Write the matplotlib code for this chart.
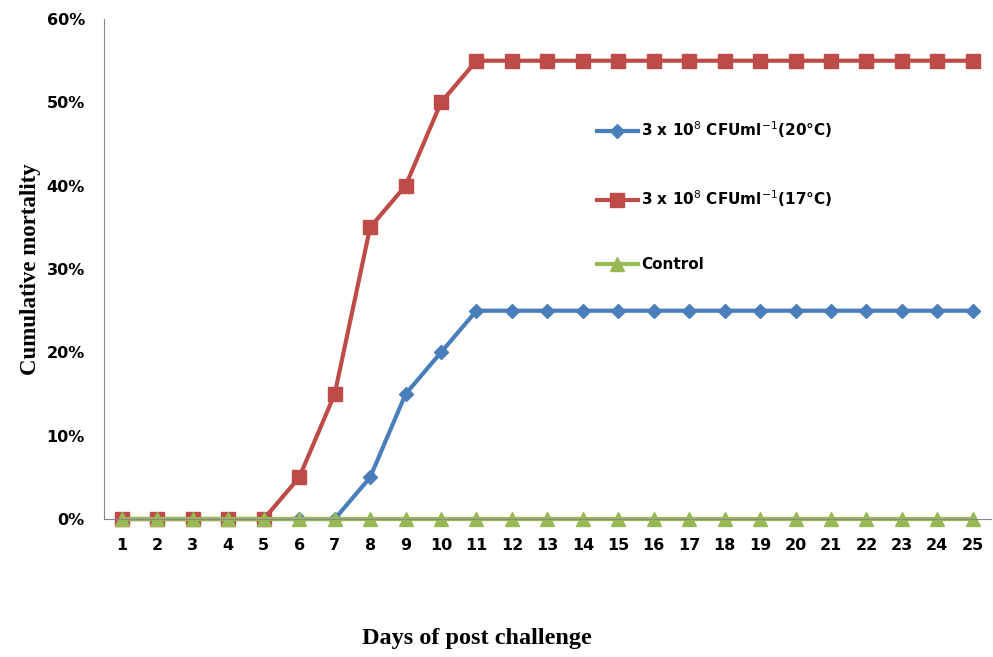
import numpy as np
import matplotlib.pyplot as plt
from matplotlib.ticker import PercentFormatter

# cumulative mortality (%)
days = list(range(1, 26))
mort_20c = [0, 0, 0, 0, 0, 0, 0, 5, 15, 20] + [25] * 15
mort_17c = [0, 0, 0, 0, 0, 5, 15, 35, 40, 50] + [55] * 15
control = [0] * 25

labels = [r'3 x 10$^{8}$ CFUml$^{-1}$(20°C)',
          r'3 x 10$^{8}$ CFUml$^{-1}$(17°C)',
          'Control']

fig = plt.figure(figsize=(9.93, 6.57), dpi=100)
ax = fig.add_axes([0.105, 0.210, 0.8925, 0.761])

x = np.arange(len(days))
ax.plot(x, mort_20c, color='#4a7ebb', lw=3, marker='D', ms=7, label=labels[0], clip_on=False)
ax.plot(x, mort_17c, color='#be4b48', lw=3, marker='s', ms=10.5, label=labels[1], clip_on=False)
ax.plot(x, control, color='#98b954', lw=3, marker='^', ms=10, label=labels[2], clip_on=False)

ax.set_xlim(-0.5, len(days) - 0.5)
ax.set_ylim(0, 60)
ax.set_yticks(range(0, 61, 10))
ax.yaxis.set_major_formatter(PercentFormatter(decimals=0))
ax.set_xticks(x)
ax.set_xticklabels([str(d) for d in days])
ax.tick_params(axis='both', length=0, labelsize=11.5)
ax.tick_params(axis='x', pad=14)
ax.tick_params(axis='y', pad=14)
for lab in ax.get_xticklabels() + ax.get_yticklabels():
    lab.set_fontweight('bold')

for s in ['top', 'right']:
    ax.spines[s].set_visible(False)
for s in ['left', 'bottom']:
    ax.spines[s].set_color('#888888')

leg = ax.legend(loc='upper left', bbox_to_anchor=(0.54, 0.826), frameon=False,
                labelspacing=3.15, handlelength=2.7, handletextpad=0.2,
                prop={'size': 11, 'weight': 'bold'})

ax.set_ylabel('Cumulative mortality', family='Liberation Serif',
              fontweight='bold', fontsize=16.5, labelpad=4)
fig.text(0.48, 0.02, 'Days of post challenge', family='Liberation Serif',
         fontweight='bold', fontsize=17.5, ha='center')

plt.savefig('out.png', dpi=100)
